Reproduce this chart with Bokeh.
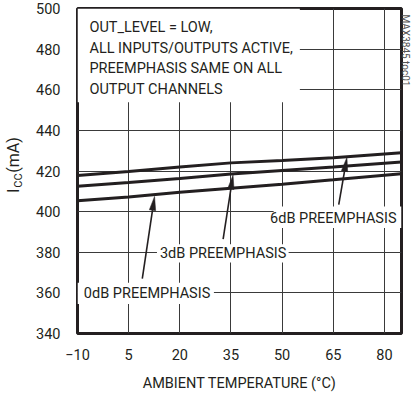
import math
from bokeh.plotting import figure
from bokeh.models import Label, FixedTicker, Range1d, LinearAxis
from bokeh.embed import file_html
from bokeh.resources import INLINE

# ---- data ----
temps = [-10, 5, 20, 35, 50, 65, 85]
icc_6db = [417.8, 419.8, 422.0, 424.0, 425.2, 426.5, 429.0]
icc_3db = [412.5, 414.3, 416.3, 418.5, 420.3, 422.0, 424.4]
icc_0db = [405.4, 407.2, 409.5, 411.5, 413.5, 415.7, 418.7]
x_ticks = [-10, 5, 20, 35, 50, 65, 80]
y_ticks = [340, 360, 380, 400, 420, 440, 460, 480, 500]

FONT = "Roboto"
TXT = "#231f20"
FS = "14.5px"
NB = "\u00a0"

X0, X1, Y0, Y1 = -10, 85, 340, 500
W, H = 413, 397
ML, MR, MT, MB = 77, 10, 8, 64
FH = H - MT - MB   # frame height in px

p = figure(width=W, height=H, output_backend="svg", toolbar_location=None,
           x_range=Range1d(X0, X1), y_range=Range1d(Y0, Y1),
           min_border_left=ML, min_border_right=MR, min_border_top=MT, min_border_bottom=MB)
# pixel-based helper range used only to place the axis-title pieces
p.extra_y_ranges = {"lab": Range1d(0, FH)}

p.outline_line_color = TXT
p.outline_line_width = 3
p.outline_line_alpha = 1.0

def plain_axis(ax):
    ax.axis_line_color = None
    ax.major_tick_line_color = None
    ax.minor_tick_line_color = None
    ax.major_tick_in = 0
    ax.major_tick_out = 0
    ax.major_label_text_font = FONT
    ax.major_label_text_color = TXT

for ax in (p.xaxis[0], p.yaxis[0]):
    plain_axis(ax)
    ax.major_label_text_font_size = FS

p.xaxis.ticker = FixedTicker(ticks=x_ticks)
p.yaxis.ticker = FixedTicker(ticks=y_ticks)
p.xaxis.major_label_standoff = 15
p.yaxis.major_label_standoff = 17
p.xaxis.axis_label = "AMBIENT TEMPERATURE (°C)"
p.xaxis.axis_label_text_font = FONT
p.xaxis.axis_label_text_font_size = FS
p.xaxis.axis_label_text_font_style = "normal"
p.xaxis.axis_label_text_color = TXT
p.xaxis.axis_label_standoff = 12

# y-axis title "I_CC (mA)": subscript as a tick label, the rest as that axis' title
sub_axis = LinearAxis(y_range_name="lab", ticker=FixedTicker(ticks=[153]),
                      major_label_overrides={153: "CC"})
plain_axis(sub_axis)
sub_axis.major_label_text_font_size = "11px"
sub_axis.major_label_orientation = "vertical"
sub_axis.major_label_standoff = 9
sub_axis.axis_label = NB * 3 + "I" + NB * 4 + "(mA)"
sub_axis.axis_label_text_font = FONT
sub_axis.axis_label_text_font_size = "16px"
sub_axis.axis_label_text_font_style = "normal"
sub_axis.axis_label_text_color = TXT
sub_axis.axis_label_standoff = -14
p.add_layout(sub_axis, "left")

# side reference code
side_axis = LinearAxis(y_range_name="lab", ticker=FixedTicker(ticks=[283]),
                       major_label_overrides={283: "MAX3845 toc01"})
plain_axis(side_axis)
side_axis.major_label_text_font_size = "10px"
side_axis.major_label_text_color = "#555555"
side_axis.major_label_orientation = "vertical"
side_axis.major_label_standoff = -2
p.add_layout(side_axis, "right")

p.xgrid.ticker = FixedTicker(ticks=x_ticks)
p.ygrid.ticker = FixedTicker(ticks=y_ticks)
p.grid.grid_line_color = "#3a3a3a"
p.grid.grid_line_width = 1

# ---- curves ----
for ys in (icc_6db, icc_3db, icc_0db):
    p.line(temps, ys, line_width=3, line_color=TXT)

# ---- white boxes masking the grid behind annotations ----
boxes = [(-10, 55.2, 453.8, 500),      # top-left note
         (47.5, 85, 392, 402.5),       # 6dB
         (13.3, 51.9, 375, 384),       # 3dB
         (-10, 30, 354.5, 365)]        # 0dB
for (l, r, b, t) in boxes:
    p.quad(left=l, right=r, bottom=b, top=t, fill_color="white", line_color=None)

def note(x, y, text, align="left"):
    p.add_layout(Label(x=x, y=y, text=text, text_font=FONT, text_font_size=FS,
                       text_color=TXT, text_align=align, text_baseline="middle"))

note(-6.5, 490.7, "OUT_LEVEL = LOW,")
note(-6.5, 480.5, "ALL INPUTS/OUTPUTS ACTIVE,")
note(-6.5, 470.5, "PREEMPHASIS SAME ON ALL")
note(-6.5, 460.2, "OUTPUT CHANNELS")
note(65.0, 396.8, "6dB PREEMPHASIS", "center")
note(32.7, 379.6, "3dB PREEMPHASIS", "center")
note(10.4, 359.6, "0dB PREEMPHASIS", "center")

# ---- arrows (narrow filled heads) ----
sx = (W - ML - MR) / (X1 - X0)   # px per x unit
sy = FH / (Y1 - Y0)              # px per y unit
arrows = [(9.0, 367.0, 12.6, 407.5),
          (32.7, 386.5, 35.6, 418.0),
          (66.6, 403.5, 69.0, 426.7)]
HL, HW = 14.0, 3.2
for (xs, ys, xe, ye) in arrows:
    dx, dy = (xe - xs) * sx, (ye - ys) * sy
    n = math.hypot(dx, dy)
    ux, uy = dx / n, dy / n
    bx, by = -HL * ux, -HL * uy
    px_, py_ = -uy * HW, ux * HW
    base_x, base_y = xe + bx / sx, ye + by / sy
    p.segment(x0=[xs], y0=[ys], x1=[base_x], y1=[base_y], line_width=1.6, line_color=TXT)
    p.patch([xe, base_x + px_ / sx, base_x - px_ / sx],
            [ye, base_y + py_ / sy, base_y - py_ / sy],
            fill_color=TXT, line_color=TXT, line_width=0.5)

open("out.html", "w").write(file_html(p, INLINE))
